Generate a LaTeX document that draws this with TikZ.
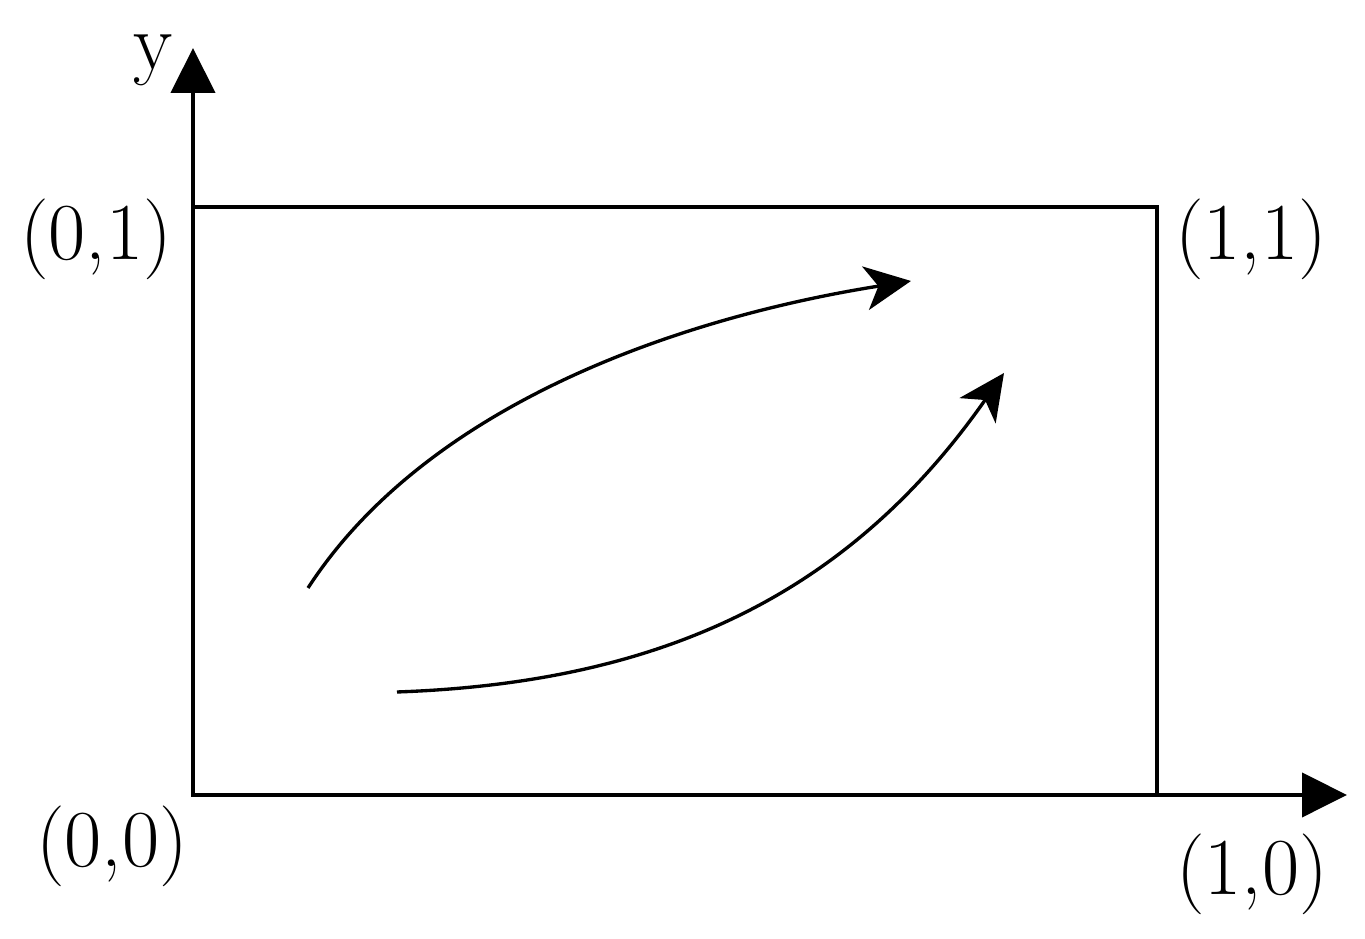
\documentclass[tikz,border=0pt]{standalone}
\usepackage{fontspec}
\usepackage{tikz}
\usetikzlibrary{arrows.meta}

\begin{document}
\begin{tikzpicture}
  [axis/.style={line width=1.15pt,-{Triangle[length=0.45cm,width=0.44cm]}}
  ,flow/.style={line width=0.95pt,-{Stealth[length=0.46cm,width=0.44cm,inset=0.13cm]}}
  ,lbl/.style={anchor=base,inner sep=0pt,font=\fontsize{23}{27}\selectfont}]
  \useasboundingbox (-1.93,-1.44) rectangle (11.72,7.95);
  \coordinate (O) at (0,0);
  \coordinate (xend) at (11.54,0);
  \coordinate (yend) at (0,7.47);
  \coordinate (c11) at (9.64,5.88);
  \coordinate (up-s) at (1.15,2.07);
  \coordinate (up-e) at (7.18,5.14);
  \coordinate (lo-s) at (2.04,1.03);
  \coordinate (lo-e) at (8.11,4.22);
  \draw[line width=1.15pt] (O) rectangle (c11);
  \draw[axis] (O) -- (xend);
  \draw[axis] (O) -- (yend);
  \node[lbl] (ylab) at (-0.40,7.25) {y};
  \node[lbl] (p01) at (-0.97,5.35) {(0,1)};
  \node[lbl] (p11) at (10.58,5.35) {(1,1)};
  \node[lbl] (p00) at (-0.81,-0.72) {(0,0)};
  \node[lbl] (p10) at (10.59,-1.00) {(1,0)};
  \draw[flow] (up-s) to[out=57,in=189,looseness=0.85] (up-e);
  \draw[flow] (lo-s) to[out=2,in=235] (lo-e);
\end{tikzpicture}
\end{document}
